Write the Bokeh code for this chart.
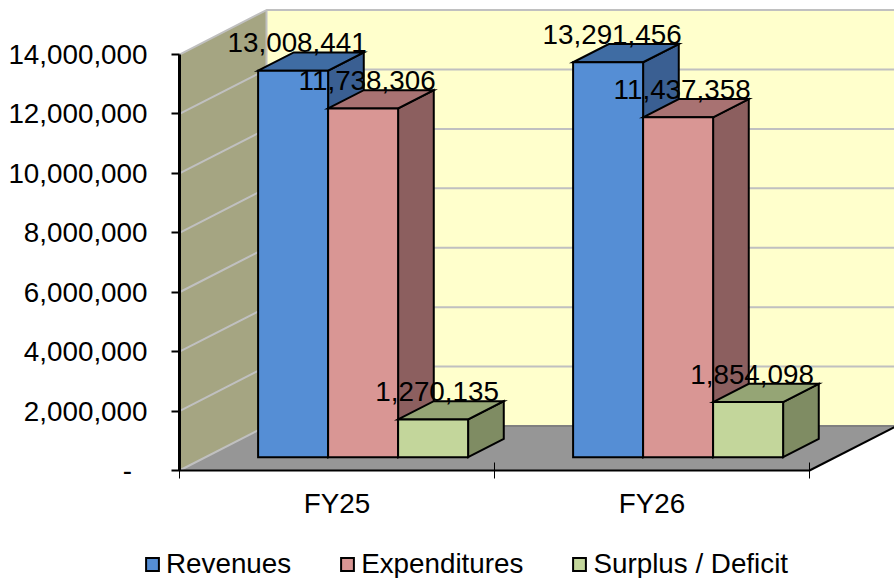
from bokeh.plotting import figure
from bokeh.models import ColumnDataSource, Range1d, FixedTicker, Legend, LegendItem
from bokeh.core.properties import value
from bokeh.embed import file_html
from bokeh.resources import INLINE

categories = ["FY25", "FY26"]
series_names = ["Revenues", "Expenditures", "Surplus / Deficit"]
revenues = [13008441, 13291456]
expenditures = [11738306, 11437358]
surplus = [1270135, 1854098]
y_ticks = [0, 2000000, 4000000, 6000000, 8000000, 10000000, 12000000, 14000000]

FONT = "Liberation Sans"
FS = "27.8px"
W, H = 894, 578
AX_X, AX_Y = 179, 470     # pixel position of the chart's origin
PX_CAT = 315.0            # pixels per category
PX_VAL = 29.71e-6         # pixels per unit of value
DEPTH_X = 87.0 / PX_CAT   # oblique projection of the full depth
DEPTH_Y = 44.5 / PX_VAL
BAR_W = 1 / 4.5
GAP = 0.75 / 4.5
D0, D1 = 0.30, 0.71       # depth span of the bars

x_max = (W - AX_X) / PX_CAT
p = figure(width=W, height=H, output_backend="svg", toolbar_location=None,
           x_range=Range1d(-AX_X / PX_CAT, x_max),
           y_range=Range1d(-(H - AX_Y) / PX_VAL, AX_Y / PX_VAL),
           min_border_left=0, min_border_right=0, min_border_top=0, min_border_bottom=0,
           outline_line_color=None, background_fill_color="white", border_fill_color="white")
p.grid.visible = False


def pr(x, v, d):
    return x + d * DEPTH_X, v + d * DEPTH_Y


def poly(points):
    xy = [pr(*q) for q in points]
    return [a for a, _ in xy], [b for _, b in xy]


top = max(y_ticks)
far = x_max + 1
# back wall, side wall, floor
xs, ys = poly([(0, 0, 1), (far, 0, 1), (far, top, 1), (0, top, 1)])
p.patch(xs, ys, fill_color="#FFFFCC", line_color=None)
xs, ys = poly([(0, 0, 0), (0, 0, 1), (0, top, 1), (0, top, 0)])
p.patch(xs, ys, fill_color="#A5A582", line_color=None)
xs, ys = poly([(0, 0, 0), (2, 0, 0), (2, 0, 1), (0, 0, 1)])
p.patch(xs, ys, fill_color="#969696", line_color=None)

# gridlines on walls
gx, gy = [], []
for t in y_ticks:
    a, b = poly([(0, t, 0), (0, t, 1), (far, t, 1)])
    if t == 0:
        a, b = a[:2], b[:2]
    gx.append(a)
    gy.append(b)
p.multi_line(gx, gy, line_color="#C0C0C0", line_width=2)
a, b = poly([(0, 0, 1), (0, top, 1)])
p.line(a, b, line_color="#C0C0C0", line_width=2)
a, b = poly([(0, 0, 1), (far, 0, 1)])
p.line(a, b, line_color="#808080", line_width=2)
xa, ya_ = poly([(2, 0, 0), (2, 0, 1)])
p.line(xa, ya_, line_color="black", line_width=2)

series = [revenues, expenditures, surplus]
front_c = ["#558ED5", "#D99694", "#C3D69B"]
top_c = ["#3F6CA3", "#A87272", "#95A575"]
side_c = ["#3A5F92", "#8C5F5F", "#7F8C63"]
front_r = [None, None, None]
labels = {"x": [], "y": [], "t": []}

for c in range(len(categories)):
    for s, vals in enumerate(series):
        v = vals[c]
        x0 = c + GAP + s * BAR_W
        x1 = x0 + BAR_W
        a, b = poly([(x1, 0, D0), (x1, 0, D1), (x1, v, D1), (x1, v, D0)])
        p.patch(a, b, fill_color=side_c[s], line_color="black", line_width=2, line_join="miter")
        a, b = poly([(x0, v, D0), (x0, v, D1), (x1, v, D1), (x1, v, D0)])
        p.patch(a, b, fill_color=top_c[s], line_color="black", line_width=2, line_join="miter")
        a, b = poly([(x0, 0, D0), (x1, 0, D0), (x1, v, D0), (x0, v, D0)])
        r = p.patch(a, b, fill_color=front_c[s], line_color="black", line_width=2, line_join="miter")
        if front_r[s] is None:
            front_r[s] = r
        lx, ly = pr((x0 + x1) / 2, v, D0)
        labels["x"].append(lx)
        labels["y"].append(ly)
        labels["t"].append(f"{v:,}")

p.text("x", "y", text="t", source=ColumnDataSource(labels), text_align="center",
       text_baseline="middle", x_offset=4, y_offset=-28, text_color="black",
       text_font=value(FONT), text_font_size=value(FS))

ya = p.yaxis[0]
ya.fixed_location = 0
ya.ticker = FixedTicker(ticks=y_ticks)
ya.bounds = (0, top)
ya.major_label_overrides = {t: (f"{t:,}" if t else "-\u00a0\u00a0") for t in y_ticks}
ya.major_label_text_font = FONT
ya.major_label_text_font_size = FS
ya.major_label_text_color = "black"
ya.major_label_standoff = 24
ya.major_tick_in = 0
ya.major_tick_out = 8
ya.major_tick_line_color = "black"
ya.major_tick_line_width = 2
ya.minor_tick_line_color = None
ya.axis_line_color = "black"
ya.axis_line_width = 3

xa_ = p.xaxis[0]
xa_.fixed_location = 0
cat_mid = [i + 0.5 for i in range(len(categories))]
xa_.ticker = FixedTicker(ticks=cat_mid, minor_ticks=list(range(len(categories) + 1)))
xa_.bounds = (0, len(categories))
xa_.major_label_overrides = dict(zip(cat_mid, categories))
xa_.major_label_text_font = FONT
xa_.major_label_text_font_size = FS
xa_.major_label_text_color = "black"
xa_.major_label_standoff = 9
xa_.major_tick_line_color = None
xa_.major_tick_in = 0
xa_.major_tick_out = 8
xa_.minor_tick_in = 8
xa_.minor_tick_out = 8
xa_.minor_tick_line_color = "black"
xa_.minor_tick_line_width = 1
xa_.axis_line_color = "black"
xa_.axis_line_width = 2

legend = Legend(items=[LegendItem(label=n, renderers=[r]) for n, r in zip(series_names, front_r)],
                orientation="horizontal", location=(144, -2), padding=0, margin=0, spacing=48,
                glyph_width=16, glyph_height=16, label_standoff=6,
                label_text_font=FONT, label_text_font_size=FS, label_text_color="black",
                background_fill_alpha=0, border_line_color=None)
p.add_layout(legend, "center")

open("out.html", "w").write(file_html(p, INLINE))
